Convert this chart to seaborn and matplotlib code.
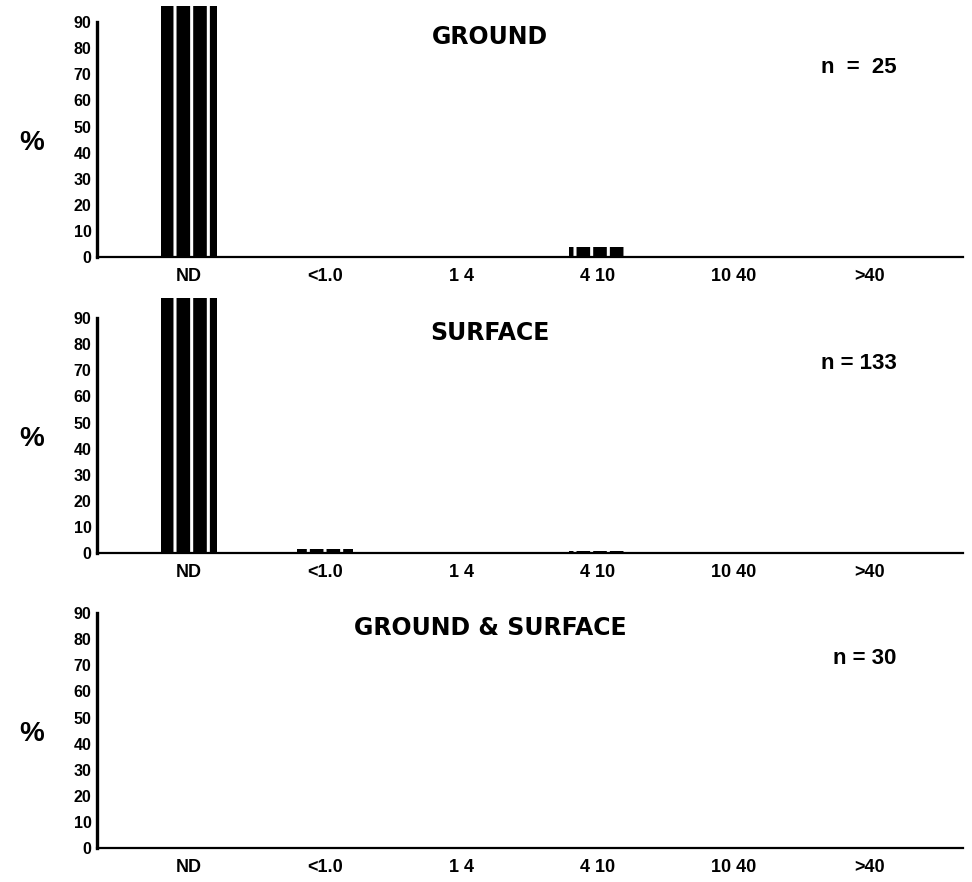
import matplotlib
matplotlib.use("Agg")
import matplotlib.pyplot as plt
import seaborn as sns
import pandas as pd

# ---- data ----
categories = ["ND", "<1.0", "1 4", "4 10", "10 40", ">40"]
ground = [96, 0, 0, 4, 0, 0]
surface = [97.7, 1.5, 0, 0.8, 0, 0]
ground_surface = [0, 0, 0, 0, 0, 0]
panel_titles = ["GROUND", "SURFACE", "GROUND & SURFACE"]
panel_n = ["n  =  25", "n = 133", "n = 30"]
yticks = [0, 10, 20, 30, 40, 50, 60, 70, 80, 90]

sns.set_theme(style="white")
plt.rcParams["font.family"] = ["Liberation Sans Narrow", "Liberation Sans", "DejaVu Sans"]
plt.rcParams["font.weight"] = "bold"
plt.rcParams["hatch.linewidth"] = 2.2
for k in ["text.color", "axes.labelcolor", "xtick.color", "ytick.color"]:
    plt.rcParams[k] = "black"

fig = plt.figure(figsize=(9.72, 8.82), dpi=100)

left, width, height = 0.0998, 0.891, 0.290
bottoms = [0.7086, 0.373, 0.0385]
series = [ground, surface, ground_surface]

for vals, title, ntxt, bot in zip(series, panel_titles, panel_n, bottoms):
    ax = fig.add_axes([left, bot, width, height])
    df = pd.DataFrame({"category": categories, "pct": vals})
    sns.barplot(data=df, x="category", y="pct", order=categories,
                color="black", width=0.41, ax=ax, saturation=1)
    for p in ax.patches:
        p.set_facecolor("black")
        p.set_edgecolor("white")
        p.set_linewidth(0)
        p.set_hatch("|")
    ax.set_xlim(-0.676, 5.69)
    ax.set_ylim(0, 98)
    ax.set_yticks(yticks)
    ax.set_yticklabels([str(t) for t in yticks], fontsize=11.5, fontweight="bold")
    ax.tick_params(axis="y", direction="in", length=6, width=1.5, pad=4, colors="black")
    ax.tick_params(axis="x", length=0, pad=8, labelsize=13, colors="black")
    for lab in ax.get_xticklabels():
        lab.set_fontweight("bold")
    ax.spines["top"].set_visible(False)
    ax.spines["right"].set_visible(False)
    ax.spines["left"].set_bounds(0, 90)
    ax.spines["left"].set_linewidth(2.4)
    ax.spines["bottom"].set_linewidth(1.6)
    ax.spines["left"].set_color("black")
    ax.spines["bottom"].set_color("black")
    ax.set_xlabel("")
    ax.set_ylabel("%", rotation=0, fontsize=20, fontweight="bold", va="center", ha="center",
                  color="black")
    ax.yaxis.set_label_coords(-0.075, 0.445)
    ax.text(0.454, 0.862, title, transform=ax.transAxes, ha="center", va="center",
            fontsize=17, fontweight="bold", family=["DejaVu Sans"], color="black")
    ax.text(0.923, 0.74, ntxt, transform=ax.transAxes, ha="right", va="center",
            fontsize=16, fontweight="bold", color="black")

fig.savefig("out.png", dpi=100, facecolor="white")
